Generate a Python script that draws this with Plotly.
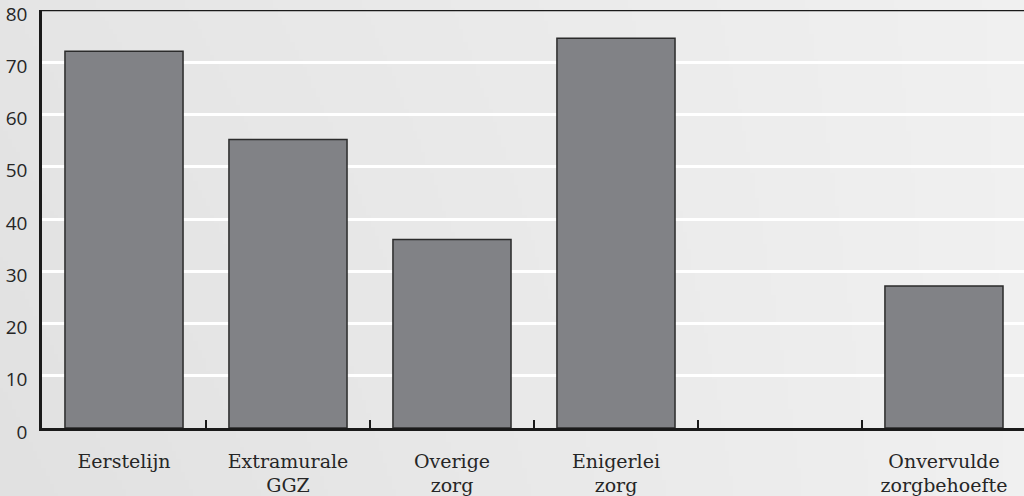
import base64
import struct
import zlib

import numpy as np
import plotly.graph_objects as go

# Zorggebruik (%)
categories = ["Eerstelijn", "Extramurale<br>GGZ", "Overige<br>zorg",
              "Enigerlei<br>zorg", " ", "Onvervulde<br>zorgbehoefte"]
values = [72.1, 55.2, 36.1, 74.6, None, 27.2]
y_ticks = [0, 10, 20, 30, 40, 50, 60, 70, 80]


def png_data_uri(gray):
    """Encode a 2-D uint8 array as a grayscale PNG data URI."""
    h, w = gray.shape
    raw = b"".join(b"\x00" + gray[r].tobytes() for r in range(h))

    def chunk(tag, data):
        c = struct.pack(">I", len(data)) + tag + data
        return c + struct.pack(">I", zlib.crc32(tag + data) & 0xFFFFFFFF)

    png = (b"\x89PNG\r\n\x1a\n"
           + chunk(b"IHDR", struct.pack(">IIBBBBB", w, h, 8, 0, 0, 0, 0))
           + chunk(b"IDAT", zlib.compress(raw, 9))
           + chunk(b"IEND", b""))
    return "data:image/png;base64," + base64.b64encode(png).decode()


# soft light-grey backdrop, brighter towards the upper right
W, H = 256, 124
gx, gy = np.meshgrid(np.linspace(0, 1, W), np.linspace(0, 1, H))
shade = 229 + 12 * gx - 4 * gy * (1 - gx)
backdrop = png_data_uri(np.clip(shade, 0, 255).astype(np.uint8))

fig = go.Figure()
fig.add_trace(go.Bar(
    x=categories, y=values, width=0.72,
    marker=dict(color="#818286", line=dict(color="#2b2b2b", width=1.5)),
    hoverinfo="skip",
))

# top frame line at the upper end of the value axis
fig.add_shape(type="line", xref="paper", yref="y", x0=0, x1=1, y0=80, y1=80,
              line=dict(color="#1a1a1a", width=2.5), layer="above")

fig.add_layout_image(dict(
    source=backdrop, xref="paper", yref="paper", x=-0.05, y=1.05,
    sizex=1.1, sizey=1.25, sizing="stretch", xanchor="left", yanchor="top",
    layer="below",
))

fig.update_layout(
    width=1024, height=496,
    margin=dict(l=42, r=0, t=10, b=68),
    paper_bgcolor="#e9e9e9", plot_bgcolor="rgba(0,0,0,0)",
    showlegend=False, bargap=0.28,
)
fig.update_xaxes(
    type="category", range=[-0.5, 5.488], automargin=False,
    showline=True, linecolor="#1a1a1a", linewidth=2.5,
    ticks="inside", tickson="boundaries", ticklen=8, tickwidth=2, tickcolor="#1a1a1a",
    showgrid=False, ticklabelstandoff=14,
    tickfont=dict(family="DejaVu Serif", size=19, color="#262626"),
)
fig.update_yaxes(
    range=[0, 80], tickvals=y_ticks, automargin=False,
    showline=True, linecolor="#1a1a1a", linewidth=2.5,
    showgrid=True, gridcolor="#ffffff", gridwidth=2.5, zeroline=False,
    ticks="", ticklabelstandoff=8, ticklabelshift=4, ticklabeloverflow="allow",
    tickfont=dict(family="Open Sans", size=19, color="#262626"),
)

fig.write_html("out.html")
